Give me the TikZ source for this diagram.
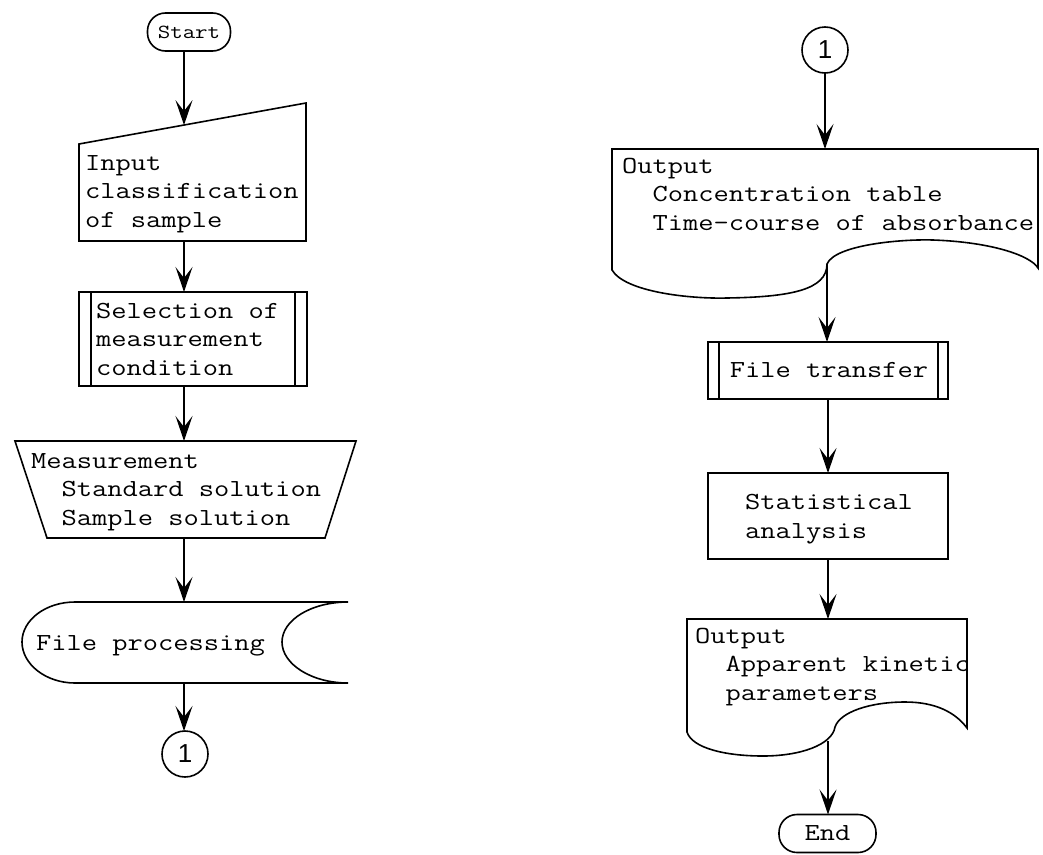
\documentclass[tikz,border=0pt]{standalone}
\usepackage{fontspec}
\setmonofont[FakeStretch=1.21]{Latin Modern Mono}
\newfontfamily\circfont{Liberation Sans}
\usetikzlibrary{arrows.meta}
\begin{document}
\begin{tikzpicture}[x=1pt,y=-1pt,
  every node/.style={font=\ttfamily\fontsize{24.5}{28.5}\selectfont, inner sep=0pt, outer sep=0pt},
  shp/.style={line width=1.6pt, line join=miter},
  arr/.style={line width=1.4pt, -{Stealth[length=25pt,width=17pt,inset=11pt]}},
  txt/.style={anchor=base west, align=left},
  term/.style={draw, shp, rounded corners=18pt, minimum height=38pt},
  conn/.style={draw, shp, circle, minimum size=46pt, font=\circfont\fontsize{26}{26}\selectfont},
]
\useasboundingbox (0,0) rectangle (1043,854);

% ---------------- left column ----------------
\node[term, minimum width=83pt, font=\ttfamily\fontsize{20}{24}\selectfont] (start) at (189,32) {Start};

% manual input
\draw[shp] (79,144) -- (306,103) -- (306,241) -- (79,241) -- cycle;
\node[txt] (inputtxt) at (85,227) {Input\\classification\\of sample};
\coordinate (inTop) at (184,125.1);
\coordinate (inBot) at (184,241);

% predefined process
\draw[shp] (79,292) rectangle (307,386);
\draw[shp] (91,292) -- (91,386) (295,292) -- (295,386);
\node[txt] (seltxt) at (96,375) {Selection of\\measurement\\condition};
\coordinate (selTop) at (184,292);
\coordinate (selBot) at (184,386);

% manual operation (trapezoid)
\draw[shp] (15,441) -- (356,441) -- (325,538) -- (47,538) -- cycle;
\node[txt] (meastxt) at (31,525) {Measurement\\\ \ Standard solution\\\ \ Sample solution};
\coordinate (measTop) at (184,441);
\coordinate (measBot) at (184,538);

% stored data
\draw[shp] (75,602) -- (348,602)
  .. controls (311.5,602) and (282,619.9) .. (282,642)
  .. controls (282,664.1) and (311.5,683) .. (348,683)
  -- (75,683)
  .. controls (45.7,683) and (22,664.1) .. (22,642)
  .. controls (22,619.9) and (45.7,602) .. (75,602) -- cycle;
\node[txt] (filetxt) at (36,650) {File processing};
\coordinate (fileTop) at (184,602);
\coordinate (fileBot) at (184,683);

\node[conn] (c1) at (185,754) {1};

\draw[arr] (start.south -| inTop) -- (inTop);
\draw[arr] (inBot) -- (selTop);
\draw[arr] (selBot) -- (measTop);
\draw[arr] (measBot) -- (fileTop);
\draw[arr] (fileBot) -- (c1.north -| fileBot);

% ---------------- right column ----------------
\node[conn] (c2) at (825,50) {1};

% document 1
\draw[shp] (612,270) -- (612,149) -- (1038,149) -- (1038,268)
  .. controls (1030,255) and (990,242) .. (933,240)
  .. controls (900,239) and (835,245) .. (827,264)
  .. controls (827,290) and (790,297) .. (727,298)
  .. controls (690,299) and (625,292) .. (612,270) -- cycle;
\node[txt] (out1txt) at (622,230) {Output\\\ \ Concentration table\\\ \ Time-course of absorbance};
\coordinate (doc1Top) at (825,149);
\coordinate (doc1Bot) at (827,264);

% predefined process
\draw[shp] (708,342) rectangle (948,399);
\draw[shp] (719,342) -- (719,399) (938,342) -- (938,399);
\node[anchor=base] (fttxt) at (829,377) {File transfer};
\coordinate (ftTop) at (827,342);
\coordinate (ftBot) at (828,399);

% process
\draw[shp] (708,473) rectangle (948,559);
\node[txt] (sttxt) at (745,538) {Statistical\\analysis};
\coordinate (stTop) at (828,473);
\coordinate (stBot) at (828,559);

% document 2
\draw[shp] (687,732) -- (687,619) -- (967,619) -- (967,728)
  .. controls (955,712) and (935,702) .. (905,702)
  .. controls (870,702) and (840,712) .. (835,727)
  .. controls (832,745) and (800,756) .. (763,756)
  .. controls (725,756) and (692,748) .. (687,732) -- cycle;
\node[txt] (out2txt) at (695,700) {Output\\\ \ Apparent kinetic\\\ \ parameters};
\coordinate (doc2Top) at (828,619);
\coordinate (doc2Bot) at (828,741);

\node[term, minimum width=97pt] (endn) at (827.5,833.5) {End};

\draw[arr] (c2.south) -- (doc1Top);
\draw[arr] (doc1Bot) -- (ftTop);
\draw[arr] (ftBot) -- (stTop);
\draw[arr] (stBot) -- (doc2Top);
\draw[arr] (doc2Bot) -- (endn.north -| doc2Bot);
\end{tikzpicture}
\end{document}
